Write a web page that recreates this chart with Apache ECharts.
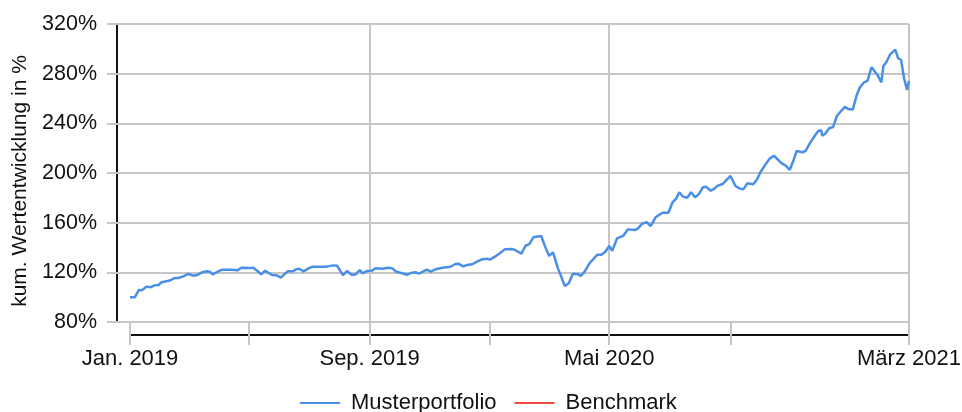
<!DOCTYPE html>
<html>
<head>
<meta charset="utf-8">
<script src="https://cdn.jsdelivr.net/npm/echarts@6/dist/echarts.min.js"></script>
<style>
	html, body { margin: 0; padding: 0; background: #fff; }
	#chart { width: 962px; height: 412px; }
</style>
</head>
<body>
<div id="chart"></div>
<script>
// --- data ---
var dates = [
	'2019-01-01','2019-01-06','2019-01-10','2019-01-13','2019-01-18','2019-01-22','2019-01-26','2019-01-30',
	'2019-02-02','2019-02-08','2019-02-11','2019-02-15','2019-02-19','2019-02-24','2019-03-01','2019-03-06',
	'2019-03-10','2019-03-15','2019-03-20','2019-03-23','2019-03-26','2019-03-31','2019-04-04','2019-04-14',
	'2019-04-20','2019-04-24','2019-05-03','2019-05-06','2019-05-10','2019-05-14','2019-05-18','2019-05-25',
	'2019-05-30','2019-06-03','2019-06-07','2019-06-10','2019-06-15','2019-06-19','2019-06-22','2019-06-26',
	'2019-07-01','2019-07-05','2019-07-18','2019-07-22','2019-07-26','2019-07-30','2019-08-05','2019-08-09',
	'2019-08-14','2019-08-18','2019-08-22','2019-08-25','2019-08-29','2019-09-03','2019-09-07','2019-09-14',
	'2019-09-20','2019-09-24','2019-09-28','2019-10-04','2019-10-09','2019-10-14','2019-10-18','2019-10-21',
	'2019-10-25','2019-10-29','2019-11-02','2019-11-08','2019-11-14','2019-11-22','2019-11-27','2019-11-30',
	'2019-12-05','2019-12-09','2019-12-14','2019-12-19','2019-12-24','2019-12-29','2020-01-01','2020-01-06',
	'2020-01-11','2020-01-16','2020-01-23','2020-01-26','2020-02-02','2020-02-06','2020-02-10','2020-02-14',
	'2020-02-22','2020-02-26','2020-03-01','2020-03-05','2020-03-10','2020-03-17','2020-03-21','2020-03-25',
	'2020-03-30','2020-04-02','2020-04-06','2020-04-11','2020-04-19','2020-04-23','2020-04-27','2020-05-01',
	'2020-05-04','2020-05-09','2020-05-15','2020-05-20','2020-05-27','2020-05-30','2020-06-03','2020-06-08',
	'2020-06-12','2020-06-17','2020-06-24','2020-06-30','2020-07-04','2020-07-08','2020-07-11','2020-07-15',
	'2020-07-19','2020-07-23','2020-07-27','2020-07-31','2020-08-04','2020-08-07','2020-08-12','2020-08-16',
	'2020-08-19','2020-08-24','2020-08-28','2020-09-01','2020-09-06','2020-09-10','2020-09-14','2020-09-18',
	'2020-09-24','2020-09-28','2020-10-01','2020-10-06','2020-10-11','2020-10-15','2020-10-23','2020-10-27',
	'2020-10-31','2020-11-04','2020-11-07','2020-11-13','2020-11-16','2020-11-21','2020-11-26','2020-11-29',
	'2020-12-02','2020-12-03','2020-12-06','2020-12-10','2020-12-14','2020-12-18','2020-12-23','2020-12-26',
	'2020-12-30','2021-01-03','2021-01-07','2021-01-10','2021-01-14','2021-01-18','2021-01-22','2021-01-28',
	'2021-02-01','2021-02-03','2021-02-06','2021-02-10','2021-02-15','2021-02-18','2021-02-21','2021-02-24',
	'2021-02-27','2021-03-01'
];
var musterportfolio = [
	100, 100, 105.8, 105.5, 108.5, 108, 109.5, 109.8,
	112, 113, 113.6, 115.4, 115.4, 116.8, 118.7, 117.3,
	117.8, 120, 120.8, 120.5, 118.4, 120.5, 122, 122,
	121.6, 123.7, 123.5, 123.7, 121.3, 118.4, 121.3, 117.8,
	117.6, 115.7, 118.7, 120.8, 120.8, 122.7, 122.7, 120.8,
	123.2, 124.5, 124.5, 125, 125.6, 125.3, 117.8, 121,
	117.8, 118.4, 121.9, 119.2, 121, 121.3, 123.2, 122.9,
	123.7, 123.2, 120.5, 119.2, 118.1, 119.7, 120, 118.9,
	120.5, 122.1, 120.5, 122.7, 123.7, 124.5, 126.7, 127,
	124.8, 125.9, 126.5, 128.6, 130.5, 131, 130.2, 132.6,
	135.3, 138.5, 138.8, 138.2, 135, 141.4, 142.8, 148.2,
	149.3, 140.7, 133.2, 136.1, 123.2, 109, 111.2, 118.7,
	118.7, 117, 120.5, 127.3, 134.2, 134.2, 136.6, 141.2,
	137.4, 147.4, 149.3, 154.6, 154.1, 155.2, 158.9, 160.5,
	157.3, 164.3, 168, 168, 176.1, 179.6, 184.5, 180.9,
	180.1, 184.5, 180.4, 183.1, 188.5, 189, 185.7, 187.6,
	189.8, 191.1, 194.4, 197.6, 189.5, 187.6, 186.8, 191.7,
	190.9, 194.9, 200.2, 206.4, 211.8, 213.9, 207.8, 205.9,
	202.4, 210.5, 217.7, 216.7, 217.7, 224.7, 230.6, 233.8,
	234.4, 230, 231.6, 236, 237, 246.1, 250.7, 253.2,
	251.3, 251.3, 262.8, 268.7, 272.7, 274.4, 285.2, 279,
	273, 286.2, 289.2, 295.6, 299.3, 292.4, 291, 276.3,
	266.8, 274.1
];
var benchmark = [];

var xMin = '2019-01-01';
var xMax = '2021-03-01';
var tickDates = ['2019-01-01', '2019-05-01', '2019-09-01', '2020-01-01', '2020-05-01', '2020-09-01', '2021-03-01'];
var labelDates = ['2019-01-01', '2019-09-01', '2020-05-01', '2021-03-01'];
var labelTexts = ['Jan. 2019', 'Sep. 2019', 'Mai 2020', 'März 2021'];
var gridDates = ['2019-09-01', '2020-05-01', '2021-03-01'];
var yTicks = [80, 120, 160, 200, 240, 280, 320];

function ts(s) {
	return +echarts.time.parse(s);
}

var gridColor = '#c6c6c6';
var font = "'Liberation Sans', Arial, sans-serif";

var myChart = echarts.init(document.getElementById('chart'));

var labelTs = labelDates.map(ts);
var seriesData = dates.map(function(d, i) {
	return [ts(d), musterportfolio[i]];
});

option = {
	animation: false,
	textStyle: {
		fontFamily: font
	},
	color: ['#4a8fe6', '#ee4a3f'],
	grid: {
		left: 130,
		right: 53,
		top: 24,
		bottom: 90,
		containLabel: false,
		outerBoundsMode: 'none'
	},
	legend: {
		left: 295,
		top: 387,
		icon: 'rect',
		itemWidth: 40,
		itemHeight: 2,
		itemGap: 18,
		textStyle: {
			fontSize: 22,
			color: '#111',
			fontFamily: font,
			padding: [0, 0, 0, 6]
		},
		data: ['Musterportfolio', 'Benchmark']
	},
	xAxis: [{
		// ticks
		type: 'value',
		min: ts(xMin),
		max: ts(xMax),
		offset: 0,
		axisLine: { show: false },
		axisTick: {
			show: true,
			customValues: tickDates.map(ts),
			length: 23,
			lineStyle: { color: gridColor, width: 2 }
		},
		axisLabel: { show: false },
		splitLine: { show: false }
	}, {
		// axis line + labels
		type: 'value',
		min: ts(xMin),
		max: ts(xMax),
		offset: 13,
		position: 'bottom',
		axisLine: { show: true, lineStyle: { color: '#111', width: 2 } },
		axisTick: { show: false },
		axisLabel: {
			customValues: labelTs,
			margin: 13,
			fontSize: 22,
			color: '#111',
			fontFamily: font,
			formatter: function(v) {
				var i = labelTs.indexOf(v);
				return i >= 0 ? labelTexts[i] : '';
			}
		},
		splitLine: { show: false }
	}, {
		// vertical grid lines
		type: 'value',
		min: ts(xMin),
		max: ts(xMax),
		axisLine: { show: false },
		axisTick: { show: false, customValues: gridDates.map(ts) },
		axisLabel: { show: false },
		splitLine: { show: true, lineStyle: { color: gridColor, width: 2 } }
	}],
	yAxis: [{
		type: 'value',
		min: yTicks[0],
		max: yTicks[yTicks.length - 1],
		interval: 40,
		offset: 0,
		axisLine: { show: false },
		axisTick: { show: true, length: 23, lineStyle: { color: gridColor, width: 2 } },
		axisLabel: { show: false },
		splitLine: { show: true, lineStyle: { color: gridColor, width: 2 } }
	}, {
		type: 'value',
		position: 'left',
		min: yTicks[0],
		max: yTicks[yTicks.length - 1],
		interval: 40,
		offset: 13,
		name: 'kum. Wertentwicklung in %',
		nameLocation: 'middle',
		nameGap: 85,
		nameRotate: 90,
		nameTextStyle: {
			fontSize: 21,
			color: '#111',
			fontFamily: font,
			padding: [0, 16, 0, 0]
		},
		axisLine: { show: true, lineStyle: { color: '#111', width: 2 } },
		axisTick: { show: false },
		axisLabel: {
			margin: 20,
			fontSize: 21.5,
			color: '#111',
			fontFamily: font,
			formatter: '{value}%'
		},
		splitLine: { show: false }
	}],
	series: [{
		name: 'Musterportfolio',
		type: 'line',
		xAxisIndex: 0,
		yAxisIndex: 0,
		symbol: 'none',
		smooth: false,
		lineStyle: { width: 2.5 },
		data: seriesData
	}, {
		name: 'Benchmark',
		type: 'line',
		xAxisIndex: 0,
		yAxisIndex: 0,
		symbol: 'none',
		lineStyle: { width: 2.5 },
		data: benchmark
	}]
};
myChart.setOption(option);
</script>
</body>
</html>
